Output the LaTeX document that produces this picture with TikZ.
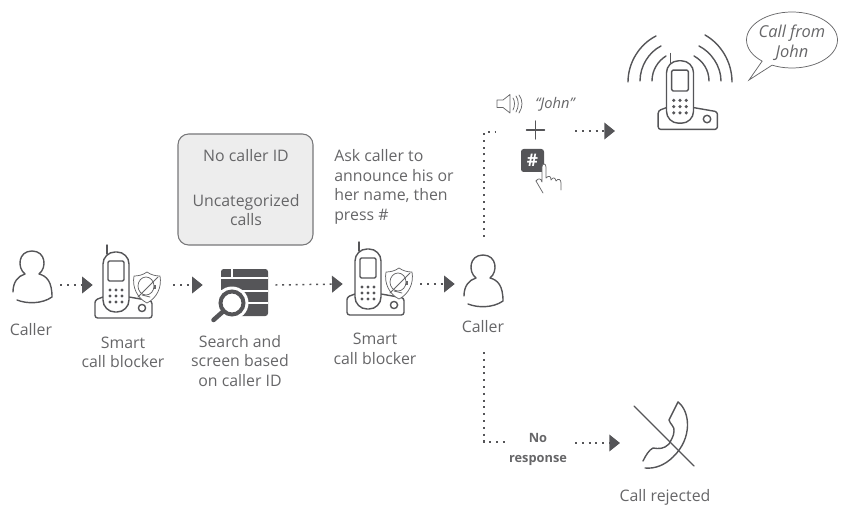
\documentclass[tikz,border=0pt]{standalone}
\usepackage{fontspec}
\setmainfont{Open Sans}
\usepackage{xcolor}
\usetikzlibrary{arrows.meta,positioning,shapes.callouts}
\definecolor{inkgray}{HTML}{555558}
\definecolor{textgray}{HTML}{666668}
\definecolor{boxgray}{HTML}{EDEDED}
\tikzset{
    label/.style={text=textgray,align=center,font=\fontsize{11.9}{14.6}\selectfont,inner sep=0pt},
    iconbox/.style={inner sep=0pt},
    flow/.style={draw=inkgray,line width=1.1pt,dash pattern=on 1.5pt off 3.6pt,-{Triangle[length=8pt,width=12.5pt]}},
    branch/.style={draw=inkgray,line width=1.1pt,dash pattern=on 1.5pt off 3.6pt},
    icon/.style={draw=inkgray,line width=1.05pt,line cap=round,line join=round},
    thin icon/.style={draw=textgray,line width=.55pt,line cap=round,line join=round},
    person/.pic={
        \draw[icon] (-19,15) .. controls (-19,5) and (-14,-1) .. (-7,-3)
            .. controls (-15,-9) and (-14,-26) .. (0,-26)
            .. controls (14,-26) and (15,-9) .. (7,-3)
            .. controls (15,-1) and (20,5) .. (20,20)
            .. controls (10,27) and (-5,27) .. (-15,23);
    },
    phone/.pic={
        % cradle, then handset on top of it
        \draw[icon,rounded corners=2pt] (-13,15) -- (-21,18) -- (-21,36) -- (36,36) -- (36,19) -- (13,15);
        \draw[icon] (26,26) circle (3.6);
        \draw[icon,fill=white,rounded corners=9pt] (-13,-30) rectangle (13,30);
        \draw[icon] (-9,-28) -- (-9,-37);
        \draw[icon,rounded corners=1pt] (-8,-21) rectangle (8,-1);
        \foreach \x in {-6,0,6} \foreach \y in {8,14,20}
            \fill[inkgray] (\x,\y) circle (1.7);
    },
    shield/.pic={
        \draw[thin icon,fill=white] (0,-15) .. controls (4,-12) and (9,-11) .. (13,-11)
            .. controls (15,0) and (10,11) .. (0,16)
            .. controls (-10,11) and (-15,0) .. (-13,-11)
            .. controls (-9,-11) and (-4,-12) .. (0,-15) -- cycle;
        \draw[thin icon] (-1,-1) ellipse (8 and 9);
        \draw[thin icon] (-9,10) -- (11,-10);
        \draw[thin icon] (-5,8) -- (3,10);
        \fill[textgray] (7,-2) rectangle (9,2);
    },
}
\begin{document}
\begin{tikzpicture}[x=.75pt,y=-.75pt]
    \useasboundingbox (0,0) rectangle (842,506);

    % icon holders, the connectors end on these
    \node[iconbox,minimum width=50*.75pt,minimum height=40pt] (caller1) at (35,285) {};
    \node[iconbox,minimum width=80*.75pt,minimum height=40pt] (blocker1) at (133,285) {};
    \node[iconbox,minimum width=72*.75pt,minimum height=40pt] (search) at (239,285) {};
    \node[iconbox,minimum width=77*.75pt,minimum height=40pt] (blocker2) at (381.5,284) {};
    \node[iconbox,minimum width=10*.75pt,minimum height=40pt] (caller2) at (460,284) {};
    \node[iconbox,minimum width=80*.75pt,minimum height=10pt] (announce) at (535,131) {};

    \pic at (32,277) {person};
    \pic at (116,282) {phone};
    \pic at (147,287) {shield};
    \pic at (368,279) {phone};
    \pic at (399,283) {shield};
    \pic at (483,281) {person};
    \pic[scale=1.04] at (680,92) {phone};

    % labels
    \node[label] (caller1text) at (31,329.5) {Caller};
    \node[label] (blocker1text) at (123,352.5) {Smart\\call blocker};
    \node[label] (searchtext) at (240,361) {Search and\\screen based\\on caller ID};
    \node[label] (blocker2text) at (375,349) {Smart\\call blocker};
    \node[label] (caller2text) at (483,327) {Caller};
    \node[label,align=left,anchor=north west] (asktext) at (334,149.5) {Ask caller to\\announce his or\\her name, then\\press \#};
    \node[label] (rejecttext) at (665,497.5) {Call rejected};

    % grey box of the call kinds
    \node[draw=inkgray!80,fill=boxgray,rounded corners=8pt,line width=.8pt,minimum width=135*.75pt,minimum height=111*.75pt,inner sep=0pt] (kinds) at (245.5,189.5) {};
    \node[label] (kinds1) at (246,156) {No caller ID};
    \node[label] (kinds2) at (246,210) {Uncategorized\\calls};

    % search table
    \fill[inkgray,rounded corners=2pt] (221,269) rectangle (268,316);
    \draw[white,line width=1.1pt] (221,278) -- (268,278) (221,291) -- (268,291) (221,303) -- (268,303) (232,269) -- (232,278);
    \fill[white] (232,303) circle (16.5);
    \draw[inkgray,line width=3pt,fill=white] (232,303) circle (11.5);
    \draw[inkgray,line width=3.4pt,line cap=round] (222.5,312) -- (213.5,320);

    % ringing waves of the top phone
    \draw[icon] (628,82) .. controls (628,62) and (640,44) .. (656,36);
    \draw[icon] (640,81) .. controls (640,66) and (649,52) .. (661,46);
    \draw[icon] (652,81) .. controls (652,70) and (658,61) .. (666,56);
    \draw[icon] (732,82) .. controls (732,62) and (721,44) .. (705,35);
    \draw[icon] (721,81) .. controls (721,66) and (711,52) .. (699,46);
    \draw[icon] (709,81) .. controls (709,70) and (703,61) .. (694,56);
    \node[ellipse callout,draw=textgray,line width=.55pt,minimum width=91*.75pt,minimum height=56*.75pt,inner sep=0pt,callout absolute pointer={(749,80)}] (bubble) at (792,40) {};
    \node[text=textgray,align=center,font=\itshape\fontsize{12.3}{14.6}\selectfont,inner sep=0pt] (bubbletext) at (792,43) {Call from\\John};

    % spoken name, plus sign and key
    \draw[thin icon] (497,100) -- (503,100) -- (510,94.5) -- (510,113) -- (503,107.5) -- (497,107.5) -- cycle;
    \draw[thin icon] (513,98) .. controls (515,101) and (515,106) .. (513,110);
    \draw[thin icon] (516,96) .. controls (519,100) and (519,107) .. (516,112);
    \draw[thin icon] (519,95) .. controls (523,100) and (523,107) .. (519,113);
    \node[text=textgray,font=\itshape\fontsize{11}{12}\selectfont,inner sep=0pt] (johntext) at (555,104) {“John”};
    \draw[icon] (526.5,130) -- (544.5,130) (535.5,121) -- (535.5,139);
    \node[fill=inkgray,rounded corners=2pt,text=white,font=\bfseries\fontsize{13}{13}\selectfont,minimum size=23*.75pt,inner sep=0pt] (hashkey) at (532.5,160.5) {\#};
    \draw[thin icon,fill=white] (536,181) .. controls (538,178) and (541,178) .. (542,182) -- (542,167) .. controls (542,163) and (546,163) .. (546,167) -- (546,178)
        .. controls (549,175) and (551,176) .. (551,180) .. controls (553,177) and (555,177) .. (556,181)
        .. controls (558,178) and (561,179) .. (561,183) -- (561,190);
    \draw[thin icon] (536,181) -- (543,193);

    % rejected handset
    \draw[icon] (634,406) -- (694,466);
    \draw[icon] (678,402) .. controls (690,411) and (693,438) .. (673,457) .. controls (665,465) and (655,469) .. (645,468);
    \draw[icon] (678,402) -- (669,420) .. controls (670,424) and (675,427) .. (674,431) .. controls (674,436) and (671,440) .. (669,444)
        .. controls (664,449) and (659,449) .. (653,448) .. controls (649,450) and (646,455) .. (643,461);

    % connectors
    \coordinate (upstart) at (484,237);
    \coordinate (upcorner) at (484,132);
    \coordinate (downstart) at (484,352);
    \coordinate (downcorner) at (484,442);
    \coordinate (downend) at (505,442);
    \coordinate (ringin) at (615,131);
    \coordinate (nextout) at (575,443);
    \coordinate (rejectin) at (620,443);
    \draw[flow] (caller1.east) -- (blocker1.west);
    \draw[flow] (blocker1.east) -- (search.west);
    \draw[flow] (search.east) -- (blocker2.west);
    \draw[flow] (blocker2.east) -- (caller2.west);
    \draw[branch] (upstart) -- (upcorner) -- (announce.west |- upcorner);
    \draw[flow] (announce.east) -- (ringin);
    \draw[branch] (downstart) -- (downcorner) -- (downend);
    \node[text=textgray,align=center,font=\bfseries\fontsize{9.6}{15}\selectfont,inner sep=0pt] (noresponse) at (538,449.5) {No\\response};
    \draw[flow] (nextout) -- (rejectin);
\end{tikzpicture}
\end{document}
